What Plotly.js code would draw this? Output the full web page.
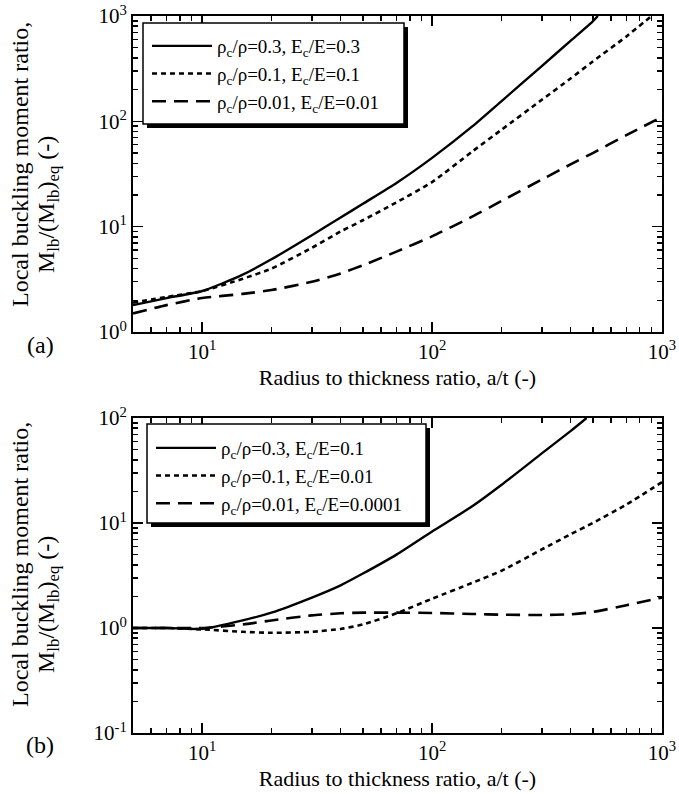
<!DOCTYPE html>
<html>
<head>
<meta charset="utf-8">
<script src="https://cdn.plot.ly/plotly-3.0.1.min.js"></script>
<style>
  html, body { margin: 0; padding: 0; background: #fff; }
  #chart { width: 679px; height: 794px; }
</style>
</head>
<body>
<div id="chart"></div>
<script>
// ---------- data ----------
// (a) panel
var aSolidX  = [5, 7, 10, 15, 20, 30, 40, 50, 70, 100, 150, 200, 300, 400, 500, 526];
var aSolidY  = [1.8, 2.1, 2.45, 3.5, 4.9, 8.3, 12.2, 16.5, 26, 45, 90, 155, 335, 580, 890, 1000];
var aDotX    = [5, 7, 10, 15, 20, 30, 40, 50, 70, 100, 150, 200, 300, 400, 500, 700, 900];
var aDotY    = [1.9, 2.15, 2.45, 3.2, 4.0, 6.3, 9.0, 11.5, 17, 26.5, 52, 83, 160, 255, 370, 640, 1000];
var aDashX   = [5, 7, 10, 15, 20, 30, 40, 50, 70, 100, 150, 200, 300, 400, 500, 700, 1000];
var aDashY   = [1.5, 1.8, 2.1, 2.3, 2.5, 3.0, 3.6, 4.3, 5.8, 8.1, 12.5, 17.5, 28, 39, 50, 74, 110];
// (b) panel
var bSolidX  = [5, 7, 10, 15, 20, 30, 40, 50, 70, 100, 150, 200, 300, 400, 470];
var bSolidY  = [1.0, 1.0, 0.98, 1.18, 1.4, 1.95, 2.55, 3.3, 5.0, 8.3, 14.5, 23, 46, 75, 100];
var bDotX    = [5, 7, 10, 15, 20, 30, 40, 50, 70, 100, 150, 200, 300, 400, 500, 700, 1000];
var bDotY    = [1.0, 1.0, 0.97, 0.92, 0.9, 0.92, 0.98, 1.08, 1.38, 1.9, 2.7, 3.5, 5.6, 7.8, 10, 15, 24.5];
var bDashX   = [5, 7, 10, 15, 20, 30, 40, 50, 70, 100, 150, 200, 300, 400, 500, 700, 1000];
var bDashY   = [1.0, 1.0, 1.0, 1.08, 1.18, 1.32, 1.38, 1.4, 1.4, 1.39, 1.36, 1.34, 1.33, 1.35, 1.42, 1.65, 1.95];

var aNames = ['ρ<sub>c</sub>/ρ=0.3, E<sub>c</sub>/E=0.3',
              'ρ<sub>c</sub>/ρ=0.1, E<sub>c</sub>/E=0.1',
              'ρ<sub>c</sub>/ρ=0.01, E<sub>c</sub>/E=0.01'];
var bNames = ['ρ<sub>c</sub>/ρ=0.3, E<sub>c</sub>/E=0.1',
              'ρ<sub>c</sub>/ρ=0.1, E<sub>c</sub>/E=0.01',
              'ρ<sub>c</sub>/ρ=0.01, E<sub>c</sub>/E=0.0001'];

var xTickVals  = [10, 100, 1000];
var xTickText  = ['10<sup>1</sup>', '10<sup>2</sup>', '10<sup>3</sup>'];
var aYTickVals = [1, 10, 100, 1000];
var aYTickText = ['10<sup>0</sup>', '10<sup>1</sup>', '10<sup>2</sup>', '10<sup>3</sup>'];
var bYTickVals = [0.1, 1, 10, 100];
var bYTickText = ['10<sup>-1</sup>', '10<sup>0</sup>', '10<sup>1</sup>', '10<sup>2</sup>'];
var xTitle = 'Radius to thickness ratio, a/t (-)';
var yTitleLine1 = 'Local buckling moment ratio,';
var yTitleLine2 = 'M<sub>lb</sub>/(M<sub>lb</sub>)<sub>eq</sub> (-)';
var panelLabels = ['(a)', '(b)'];

// ---------- helpers ----------
function minorVals(lo, hi) {
  var out = [];
  for (var e = lo; e < hi; e++) {
    for (var k = 2; k <= 9; k++) out.push(k * Math.pow(10, e));
  }
  return out;
}
var FONT = 'Liberation Serif, Times New Roman, serif';
var solid = {color: 'black', width: 2.4, dash: 'solid'};
var dotted = {color: 'black', width: 2.6, dash: '5px,4px'};
var longd = {color: 'black', width: 2.6, dash: '14px,8px'};

function tr(x, y, name, line, xa, ya, leg) {
  return {x: x, y: y, name: name, type: 'scatter', mode: 'lines',
          line: Object.assign({shape: 'spline', smoothing: 0.6}, line),
          xaxis: xa, yaxis: ya, legend: leg};
}

var data = [
  tr(aSolidX, aSolidY, aNames[0], solid, 'x', 'y', 'legend'),
  tr(aDotX, aDotY, aNames[1], dotted, 'x', 'y', 'legend'),
  tr(aDashX, aDashY, aNames[2], longd, 'x', 'y', 'legend'),
  tr(bSolidX, bSolidY, bNames[0], solid, 'x2', 'y2', 'legend2'),
  tr(bDotX, bDotY, bNames[1], dotted, 'x2', 'y2', 'legend2'),
  tr(bDashX, bDashY, bNames[2], longd, 'x2', 'y2', 'legend2')
];

function xAxis(anchor) {
  return {
    type: 'log', range: [Math.log10(5), 3], anchor: anchor,
    showline: true, linecolor: 'black', linewidth: 2, mirror: 'ticks',
    ticks: 'inside', ticklen: 10, tickwidth: 1.5, tickcolor: 'black',
    tickmode: 'array', tickvals: xTickVals, ticktext: xTickText,
    minor: {ticks: 'inside', ticklen: 5, tickwidth: 1.5, tickcolor: 'black',
            tickmode: 'array', tickvals: [6, 7, 8, 9].concat(minorVals(1, 3))},
    showgrid: false, zeroline: false,
    tickfont: {family: FONT, size: 21, color: 'black'},
    title: {text: xTitle, font: {family: FONT, size: 22, color: 'black'}, standoff: 6}
  };
}
function yAxis(anchor, lo, hi, vals, text, domain) {
  return {
    type: 'log', range: [lo, hi], anchor: anchor, domain: domain,
    showline: true, linecolor: 'black', linewidth: 2, mirror: 'ticks',
    ticks: 'inside', ticklen: 10, tickwidth: 1.5, tickcolor: 'black',
    tickmode: 'array', tickvals: vals, ticktext: text,
    minor: {ticks: 'inside', ticklen: 5, tickwidth: 1.5, tickcolor: 'black',
            tickmode: 'array', tickvals: minorVals(lo, hi)},
    showgrid: false, zeroline: false,
    tickfont: {family: FONT, size: 21, color: 'black'}
  };
}

// pixel helpers for paper coordinates (plot area: x 133..662, y 16..733)
var L = 133, R = 662, T = 16, B = 733;
function px(x) { return (x - L) / (R - L); }
function py(y) { return (B - y) / (B - T); }

function legendBox(x0, y0, x1, y1) {
  return [
    {type: 'rect', xref: 'paper', yref: 'paper', layer: 'above',
     x0: px(x0 + 4), x1: px(x1 + 4), y0: py(y1 + 4), y1: py(y0 + 4),
     fillcolor: 'black', line: {width: 0}},
    {type: 'rect', xref: 'paper', yref: 'paper', layer: 'above',
     x0: px(x0), x1: px(x1), y0: py(y1), y1: py(y0),
     fillcolor: 'white', line: {color: 'black', width: 1.5}}
  ];
}

function ann(text, x, y, size, angle) {
  return {text: text, xref: 'paper', yref: 'paper', x: px(x), y: py(y),
          xanchor: 'center', yanchor: 'middle', showarrow: false, textangle: angle || 0,
          font: {family: FONT, size: size, color: 'black'}};
}

var layout = {
  width: 679, height: 794,
  margin: {l: L, r: 679 - R, t: T, b: 794 - B},
  paper_bgcolor: 'white', plot_bgcolor: 'white',
  font: {family: FONT, color: 'black'},
  showlegend: true,
  xaxis: xAxis('y'),
  yaxis: yAxis('x', 0, 3, aYTickVals, aYTickText, [(B - 332) / (B - T), 1]),
  xaxis2: xAxis('y2'),
  yaxis2: yAxis('x2', -1, 2, bYTickVals, bYTickText, [0, (B - 418) / (B - T)]),
  legend: {x: px(147), y: py(27), xanchor: 'left', yanchor: 'top',
           bgcolor: 'rgba(0,0,0,0)', borderwidth: 0, itemwidth: 60,
           font: {family: FONT, size: 19, color: 'black'}},
  legend2: {x: px(151), y: py(429), xanchor: 'left', yanchor: 'top',
            bgcolor: 'rgba(0,0,0,0)', borderwidth: 0, itemwidth: 60,
            font: {family: FONT, size: 19, color: 'black'}},
  shapes: legendBox(143, 23, 404, 124).concat(legendBox(147, 424, 426, 523)),
  annotations: [
    ann(yTitleLine1, 20, 165, 24, -90),
    ann(yTitleLine2, 48, 205, 24, -90),
    ann(yTitleLine1, 20, 565, 24, -90),
    ann(yTitleLine2, 48, 605, 24, -90),
    ann(panelLabels[0], 40, 345, 24),
    ann(panelLabels[1], 40, 745, 24)
  ]
};

Plotly.newPlot('chart', data, layout, {displayModeBar: false, staticPlot: true});
</script>
</body>
</html>
